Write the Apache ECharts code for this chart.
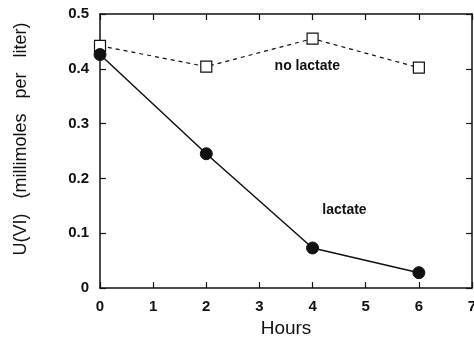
<!DOCTYPE html>
<html>
<head>
<meta charset="utf-8">
<script src="https://cdn.jsdelivr.net/npm/echarts@6/dist/echarts.min.js"></script>
<style>
	html, body { margin: 0; padding: 0; background: #fff; }
	#chart { width: 474px; height: 339px; }
</style>
</head>
<body>
<div id="chart"></div>
<script>
// data
var hours = [0, 2, 4, 6];
var noLactate = [0.442, 0.404, 0.455, 0.402];
var lactate = [0.426, 0.245, 0.073, 0.028];
// annotations: [hours, value, text]
var notes = [[3.9, 0.405, 'no lactate'], [4.6, 0.142, 'lactate']];

(function () {
	let myCharts = echarts.init(document.getElementById('chart'))
	let font = 'Liberation Sans, Arial, sans-serif'
	let ink = '#111'

	function pairs(ys) {
		return hours.map(function (h, i) { return [h, ys[i]] })
	}

	// shared axis look
	let axisLine = { show: true, onZero: false, lineStyle: { color: ink, width: 1.5 } }
	let axisTick = { show: true, inside: true, length: 6, lineStyle: { color: ink, width: 1.2 } }

	let option = {
		animation: false,
		// keep the plot box fixed, the "7" may run off the edge like in the figure
		grid: { left: 100, top: 14, right: 2, bottom: 51, outerBoundsMode: 'none', containLabel: false },
		xAxis: [{
			type: 'value', min: 0, max: 7, interval: 1,
			axisLine: axisLine, axisTick: axisTick,
			splitLine: { show: false },
			axisLabel: { color: ink, fontFamily: font, fontWeight: 'bold', fontSize: 15, margin: 11 },
			name: 'Hours', nameLocation: 'middle', nameGap: 31,
			nameTextStyle: { color: ink, fontFamily: font, fontSize: 19 }
		}, {
			// top border with ticks
			type: 'value', position: 'top', min: 0, max: 7, interval: 1,
			axisLine: axisLine, axisTick: axisTick,
			axisLabel: { show: false }, splitLine: { show: false }
		}],
		yAxis: [{
			type: 'value', min: 0, max: 0.5, interval: 0.1,
			axisLine: axisLine, axisTick: axisTick,
			splitLine: { show: false },
			axisLabel: {
				color: ink, fontFamily: font, fontWeight: 'bold', fontSize: 15, margin: 11,
				formatter: function (v) { return v === 0 ? '0' : v.toFixed(1) }
			},
			name: 'U(VI)   (millimoles   per   liter)', nameLocation: 'middle', nameGap: 70,
			nameTextStyle: { color: ink, fontFamily: font, fontSize: 18, padding: [0, 0, 0, 24] }
		}, {
			// right border with ticks
			type: 'value', position: 'right', min: 0, max: 0.5, interval: 0.1,
			axisLine: axisLine, axisTick: axisTick,
			axisLabel: { show: false }, splitLine: { show: false }
		}],
		series: [{
			name: 'no lactate',
			type: 'line',
			data: pairs(noLactate),
			symbol: 'rect', symbolSize: 11,
			itemStyle: { color: '#fff', borderColor: ink, borderWidth: 1.2 },
			lineStyle: { color: ink, width: 1.2, type: [4, 4] },
			z: 3
		}, {
			name: 'lactate',
			type: 'line',
			data: pairs(lactate),
			symbol: 'circle', symbolSize: 12,
			itemStyle: { color: ink, borderColor: ink },
			lineStyle: { color: ink, width: 1.5 },
			z: 4
		}, {
			// text annotations placed at data coordinates
			type: 'scatter',
			data: notes.map(function (n) { return { value: [n[0], n[1]], label: { formatter: n[2] } } }),
			symbolSize: 0,
			// scatter is 0.8 opaque by default, labels follow it
			itemStyle: { color: ink, opacity: 1 },
			label: {
				show: true, position: 'inside',
				color: ink, fontFamily: font, fontWeight: 'bold', fontSize: 14,
				textBorderWidth: 0
			},
			silent: true
		}]
	}
	myCharts.setOption(option)
	window.addEventListener('resize', function () {
		myCharts.resize()
	})
})()
</script>
</body>
</html>
